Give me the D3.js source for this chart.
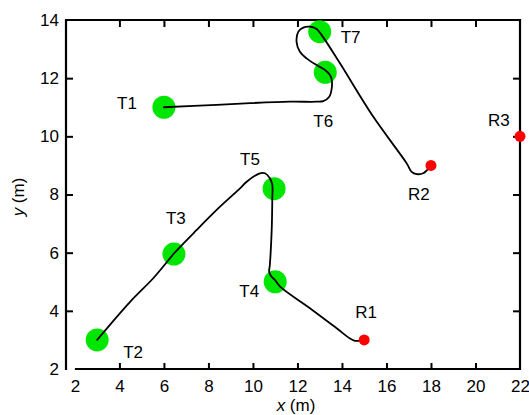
<!DOCTYPE html>
<html>
<head>
<meta charset="utf-8">
<script src="https://cdn.jsdelivr.net/npm/d3@7"></script>
<style>
  html, body { margin: 0; padding: 0; background: #fff; }
  svg { display: block; font-family: "Liberation Sans", Arial, sans-serif; }
</style>
</head>
<body>
<svg id="chart" width="529" height="415"></svg>
<script>
// ---- data ----
const targetNames = ["T1", "T2", "T3", "T4", "T5", "T6", "T7"];
const targetX = [6.0, 3.0, 6.45, 11.0, 10.95, 13.25, 13.0];
const targetY = [11.0, 3.0, 5.95, 5.0, 8.2, 12.2, 13.6];

const robotNames = ["R1", "R2", "R3"];
const robotX = [15, 18, 22];
const robotY = [3, 9, 10];

// trajectory 1: T1 -> T6 -> T7 -> R2
const path1X = [6.0, 8.37, 9.87, 11.66, 12.86, 13.16, 13.43, 13.54, 13.54, 13.46, 13.24, 12.86, 12.41, 12.11, 11.96, 12.04, 12.26, 12.56, 12.86, 13.09, 13.91, 15.41, 16.91, 17.13, 17.36, 17.65, 17.83, 18.03];
const path1Y = [11.0, 11.08, 11.14, 11.19, 11.19, 11.21, 11.36, 11.65, 11.94, 12.11, 12.28, 12.45, 12.68, 12.91, 13.25, 13.60, 13.74, 13.77, 13.69, 13.48, 12.51, 10.67, 9.07, 8.78, 8.70, 8.73, 8.84, 8.96];

// trajectory 2: T2 -> T3 -> T5 -> T4 -> R1
const path2X = [3.0, 4.47, 5.52, 6.19, 6.46, 7.47, 8.52, 9.42, 9.72, 10.31, 10.54, 10.76, 10.87, 10.87, 10.84, 10.76, 10.73, 10.84, 10.99, 11.22, 12.56, 13.76, 14.36, 14.58, 14.81, 15.03];
const path2Y = [3.0, 4.3, 5.12, 5.73, 5.98, 6.78, 7.58, 8.21, 8.44, 8.73, 8.73, 8.56, 8.33, 7.87, 6.72, 5.58, 5.34, 5.17, 5.06, 4.83, 4.09, 3.40, 3.05, 2.97, 2.97, 3.0];

const xTicks = [2, 4, 6, 8, 10, 12, 14, 16, 18, 20, 22];
const yTicks = [2, 4, 6, 8, 10, 12, 14];

// ---- layout ----
const mLeft = 66, mRight = 520, mTop = 20, mBottom = 369;
const labelOffset = {
  T1: [-27, 2, "end"], T2: [26, 18, "start"], T3: [-8, -30, "start"],
  T4: [-16, 15, "end"], T5: [-34, -24, "start"], T6: [-12, 55, "start"],
  T7: [21, 11, "start"], R1: [-9, -22, "start"], R2: [-23, 35, "start"],
  R3: [-32, -10, "start"]
};

const svg = d3.select("#chart");
const x = d3.scaleLinear().domain([1.6, 22]).range([mLeft, mRight]);
const y = d3.scaleLinear().domain([2, 14]).range([mBottom, mTop]);

const fontSize = 17;

// axes
const gB = svg.append("g").attr("transform", `translate(0,${mBottom})`)
  .call(d3.axisBottom(x).tickValues(xTicks).tickFormat(d3.format("d")).tickSize(-6).tickPadding(11));
gB.selectAll(".tick line").filter(d => d === 2 || d === 22).remove();
const gL = svg.append("g").attr("transform", `translate(${mLeft},0)`)
  .call(d3.axisLeft(y).tickValues(yTicks).tickFormat(d3.format("d")).tickSize(-7).tickPadding(7));
gL.selectAll(".tick line").filter(d => d === 2 || d === 14).remove();
const gT = svg.append("g").attr("transform", `translate(0,${mTop})`)
  .call(d3.axisTop(x).tickValues(xTicks.slice(1, -1)).tickFormat("").tickSize(-7));
const gR = svg.append("g").attr("transform", `translate(${mRight},0)`)
  .call(d3.axisRight(y).tickValues(yTicks.slice(1, -1)).tickFormat("").tickSize(-7));

[gB, gL, gT, gR].forEach(g => {
  g.select(".domain").remove();
  g.selectAll(".tick line").attr("stroke", "#000").attr("stroke-width", 2);
  g.selectAll(".tick text").attr("fill", "#000").attr("font-size", fontSize)
    .attr("font-family", "Liberation Sans, Arial, sans-serif");
});

// frame
const frame = svg.append("g").attr("stroke", "#000").attr("stroke-width", 2.2).attr("fill", "none");
frame.append("line").attr("x1", mLeft).attr("x2", mLeft).attr("y1", mTop - 1).attr("y2", mBottom + 1);
frame.append("line").attr("x1", mLeft - 1).attr("x2", mRight + 1).attr("y1", mTop).attr("y2", mTop);
frame.append("line").attr("x1", mRight).attr("x2", mRight).attr("y1", mTop - 1).attr("y2", mBottom + 1);
frame.append("line").attr("x1", x(2)).attr("x2", mRight + 1).attr("y1", mBottom).attr("y2", mBottom);

// axis titles
const xt = svg.append("text").attr("x", 296).attr("y", 411).attr("text-anchor", "middle")
  .attr("font-size", fontSize).attr("fill", "#000");
xt.append("tspan").attr("font-style", "italic").text("x");
xt.append("tspan").text(" (m)");
const yt = svg.append("text").attr("transform", "translate(24,197) rotate(-90)").attr("text-anchor", "middle")
  .attr("font-size", fontSize).attr("fill", "#000");
yt.append("tspan").attr("font-style", "italic").text("y");
yt.append("tspan").text(" (m)");

const targets = targetNames.map((n, i) => ({ name: n, x: targetX[i], y: targetY[i] }));
const robots = robotNames.map((n, i) => ({ name: n, x: robotX[i], y: robotY[i] }));

// targets (green)
svg.append("g").selectAll("circle").data(targets).join("circle")
  .attr("cx", d => x(d.x)).attr("cy", d => y(d.y)).attr("r", 11.5).attr("fill", "#00e600");

// trajectories
const line = d3.line().x(d => x(d[0])).y(d => y(d[1])).curve(d3.curveCatmullRom.alpha(0.5));
const p1 = path1X.map((v, i) => [v, path1Y[i]]);
const p2 = path2X.map((v, i) => [v, path2Y[i]]);
svg.append("g").selectAll("path").data([p1, p2]).join("path")
  .attr("d", line).attr("fill", "none").attr("stroke", "#000").attr("stroke-width", 1.8)
  .attr("stroke-linejoin", "round").attr("stroke-linecap", "round");

// robots (red)
svg.append("g").selectAll("circle").data(robots).join("circle")
  .attr("cx", d => x(d.x)).attr("cy", d => y(d.y)).attr("r", 5.5).attr("fill", "#ff0000");

// labels
svg.append("g").selectAll("text").data(targets.concat(robots)).join("text")
  .attr("x", d => x(d.x) + labelOffset[d.name][0])
  .attr("y", d => y(d.y) + labelOffset[d.name][1])
  .attr("text-anchor", d => labelOffset[d.name][2])
  .attr("font-size", fontSize).attr("fill", "#000")
  .text(d => d.name);
</script>
</body>
</html>
